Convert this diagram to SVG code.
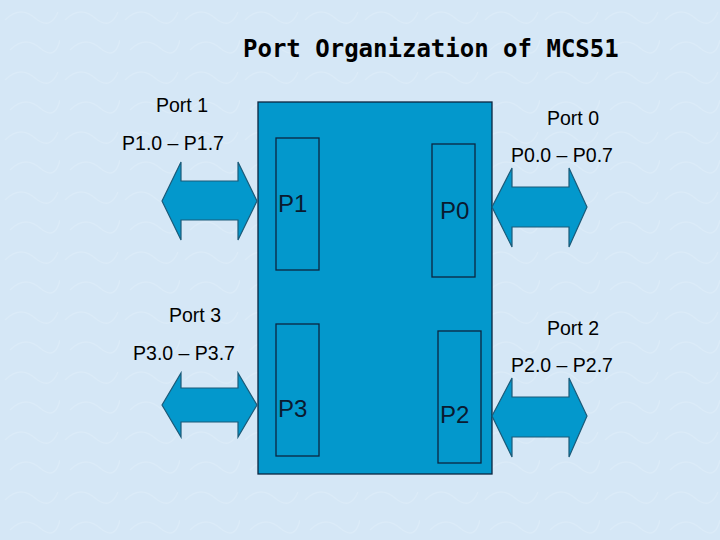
<svg xmlns="http://www.w3.org/2000/svg" width="720" height="540" viewBox="0 0 720 540">
<style>
.lbl{font-family:"Liberation Sans",Arial,sans-serif;font-size:19.5px;fill:#000;text-anchor:middle}
.reg{font-family:"Liberation Sans",Arial,sans-serif;font-size:24px;fill:#0a1a30}
.title{font-family:"DejaVu Sans Mono","Liberation Mono",monospace;font-weight:bold;font-size:24px;fill:#000}
.chip{fill:#0398cc;stroke:#0b2640;stroke-width:1.3}
.port{fill:none;stroke:#0b2640;stroke-width:1.3}
.arr{fill:#0398cc;stroke:#1b5a78;stroke-width:1.2}
</style>
<defs>
<pattern id="bgp" width="60" height="60" patternUnits="userSpaceOnUse">
<rect width="60" height="60" fill="#d5e7f6"/>
<path d="M5 20 Q20 5 35 18 T58 12 M10 50 Q25 35 40 48 T60 40" fill="none" stroke="#dbebf8" stroke-width="1.5"/>
</pattern>
</defs>
<rect width="720" height="540" fill="url(#bgp)"/>
<text class="title" x="243" y="57">Port Organization of MCS51</text>
<g id="chip">
<rect class="chip" x="258" y="102" width="234" height="372"/>
</g>
<g id="p1">
<rect class="port" x="276" y="138" width="43" height="132"/>
<text class="reg" x="278" y="212">P1</text>
</g>
<g id="p0">
<rect class="port" x="432" y="144" width="43" height="133"/>
<text class="reg" x="440" y="219">P0</text>
</g>
<g id="p3">
<rect class="port" x="276" y="324" width="43" height="132"/>
<text class="reg" x="278" y="417">P3</text>
</g>
<g id="p2">
<rect class="port" x="438" y="331" width="43" height="132"/>
<text class="reg" x="440" y="423">P2</text>
</g>
<g id="port1">
<text class="lbl" x="182" y="112">Port 1</text>
<text class="lbl" x="173" y="150">P1.0 – P1.7</text>
</g>
<g id="port0">
<text class="lbl" x="573" y="125">Port 0</text>
<text class="lbl" x="562" y="162">P0.0 – P0.7</text>
</g>
<g id="port3">
<text class="lbl" x="195" y="322">Port 3</text>
<text class="lbl" x="184" y="360">P3.0 – P3.7</text>
</g>
<g id="port2">
<text class="lbl" x="573" y="335">Port 2</text>
<text class="lbl" x="562" y="372">P2.0 – P2.7</text>
</g>
<g id="connectors">
<polygon class="arr" points="162,201 181,162 181,181 238,181 238,162 257,201 238,240 238,220 181,220 181,240"/>
<polygon class="arr" points="492,207 512,168 512,187 569,187 569,168 587,207 569,247 569,227 512,227 512,247"/>
<polygon class="arr" points="162,405 181,373 181,388 238,388 238,373 257,405 238,437 238,422 181,422 181,437"/>
<polygon class="arr" points="492,416 512,378 512,397 569,397 569,378 587,416 569,457 569,437 512,437 512,457"/>
</g>
</svg>
